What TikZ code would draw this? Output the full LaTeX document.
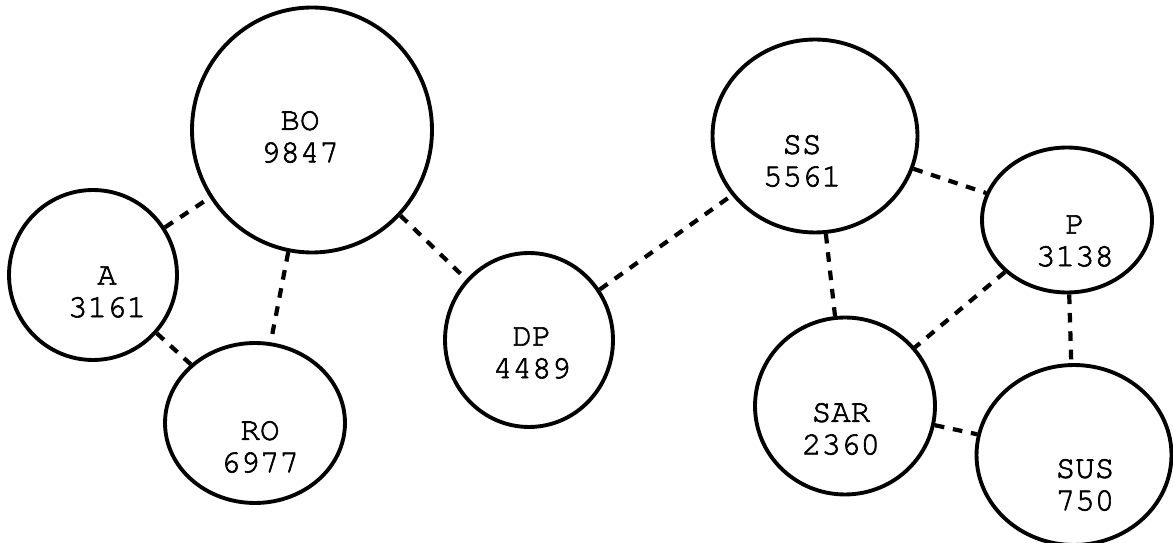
\documentclass[tikz,border=0pt]{standalone}
\usepackage{fontspec}
\usepackage{tikz}
\usetikzlibrary{shapes.geometric}
\newfontfamily\typew[FakeBold=2]{texgyrecursor-regular.otf}

\begin{document}
\begin{tikzpicture}[x=0.02cm,y=-0.02cm,
  blob/.style={draw,ellipse,line width=2.2pt,inner sep=0pt},
  lbl/.style={align=center,font=\typew\fontsize{18.5}{18.5}\selectfont},
  link/.style={line width=2.4pt,dash pattern=on 5.5pt off 5pt}]
\useasboundingbox (0,0) rectangle (1173,543);
% left group
\node[blob,minimum width=3.36cm,minimum height=3.4cm] (a) at (93,275) {};
\node[blob,minimum width=4.8cm,minimum height=4.9cm] (bo) at (312,130) {};
\node[blob,minimum width=3.6cm,minimum height=3.2cm] (ro) at (255,423) {};
\node[blob,minimum width=3.36cm,minimum height=3.48cm] (dp) at (529,340) {};
% right group
\node[blob,minimum width=4.1cm,minimum height=3.86cm] (ss) at (815,136) {};
\node[blob,minimum width=3.4cm,minimum height=2.9cm] (p) at (1067,220) {};
\node[blob,minimum width=3.6cm,minimum height=3.54cm] (sar) at (845,406) {};
\node[blob,minimum width=3.9cm,minimum height=3.6cm] (sus) at (1074,455) {};
% names and sizes
\node[lbl] (a-txt) at (107,292) {A\\3161};
\node[lbl] (bo-txt) at (300,137) {BO\\9847};
\node[lbl] (ro-txt) at (260,447) {RO\\6977};
\node[lbl] (dp-txt) at (532,353) {DP\\4489};
\node[lbl] (ss-txt) at (802,161) {SS\\5561};
\node[lbl] (p-txt) at (1075,241) {P\\3138};
\node[lbl] (sar-txt) at (841,429) {SAR\\2360};
\node[lbl] (sus-txt) at (1085,485) {SUS\\750};
% links
\draw[link] (a) -- (bo);
\draw[link] (a) -- (ro);
\draw[link] (bo) -- (ro);
\draw[link] (bo) -- (dp);
\draw[link] (dp) -- (ss);
\draw[link] (ss) -- (p);
\draw[link] (ss) -- (sar);
\draw[link] (p) -- (sar);
\draw[link] (p) -- (sus);
\draw[link] (sar) -- (sus);
\end{tikzpicture}
\end{document}
